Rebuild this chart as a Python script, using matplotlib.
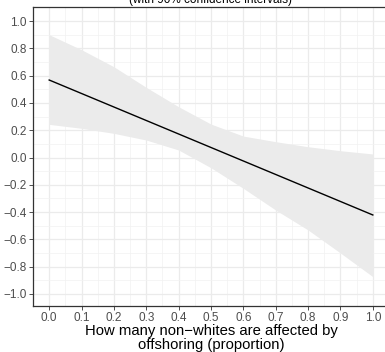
import matplotlib
matplotlib.use('Agg')
import matplotlib.pyplot as plt
import numpy as np

plt.rcParams['font.family'] = ['Liberation Sans', 'DejaVu Sans']

# predicted effect with 90% CI
x_vals = [0.0, 0.1, 0.2, 0.3, 0.4, 0.5, 0.6, 0.7, 0.8, 0.9, 1.0]
ci_upper = [0.90, 0.79, 0.665, 0.514, 0.372, 0.245, 0.157, 0.116, 0.079, 0.05, 0.026]
ci_lower = [0.243, 0.214, 0.177, 0.128, 0.055, -0.075, -0.226, -0.385, -0.531, -0.70, -0.873]
line_x = [0.0, 1.0]
line_y = [0.568, -0.421]

x_ticks = [0.0, 0.1, 0.2, 0.3, 0.4, 0.5, 0.6, 0.7, 0.8, 0.9, 1.0]
y_ticks = [-1.0, -0.8, -0.6, -0.4, -0.2, 0.0, 0.2, 0.4, 0.6, 0.8, 1.0]

fig = plt.figure(figsize=(3.85, 3.52), dpi=100)
ax = fig.add_axes([33/385, 1 - 306/352, 356/385, 299/352])

ax.fill_between(x_vals, ci_lower, ci_upper, color='#EBEBEB', lw=0, zorder=2)
ax.plot(line_x, line_y, color='black', lw=1.0, zorder=3)

ax.set_xlim(-0.05, 1.05)
ax.set_ylim(-1.088, 1.103)
ax.set_xticks(x_ticks)
ax.set_xticklabels(['%.1f' % v for v in x_ticks])
ax.set_yticks(y_ticks)
ax.set_yticklabels([('%.1f' % v).replace('-', '\u2212') for v in y_ticks])
ax.set_xticks(np.arange(-0.05, 1.06, 0.1), minor=True)
ax.set_yticks(np.arange(-0.9, 1.0, 0.2), minor=True)

ax.grid(which='major', color='#EBEBEB', lw=0.9, zorder=0)
ax.grid(which='minor', color='#F2F2F2', lw=0.5, zorder=0)
ax.set_axisbelow(True)

ax.tick_params(which='major', length=3, width=0.6, color='#333333',
               labelsize=8.5, labelcolor='#4D4D4D', pad=1.5)
ax.tick_params(which='minor', length=0)
for s in ax.spines.values():
    s.set_color('#333333')
    s.set_linewidth(0.9)

ax.set_xlabel('How many non\u2212whites are affected by\noffshoring (proportion)',
              fontsize=10.7, color='black', labelpad=0, linespacing=0.95)

fig.text(211/385, 1 - 0.5/352, '(with 90% confidence intervals)', ha='center', va='center',
         fontsize=8.5, color='black')

fig.savefig('out.png', dpi=100)
